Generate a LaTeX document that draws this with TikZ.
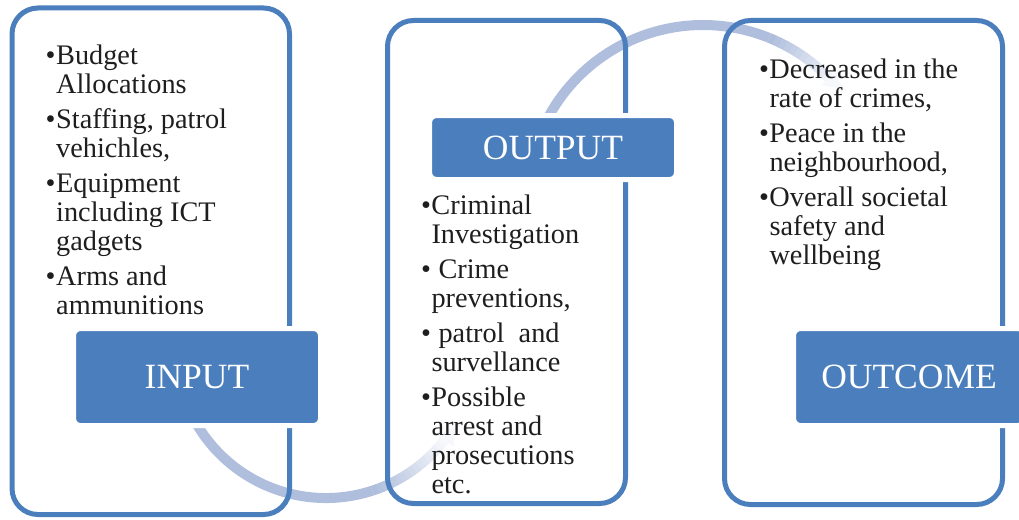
\documentclass[tikz,border=0pt]{standalone}
\usepackage{fontspec}
\setmainfont{Liberation Serif}
\usepackage{tikz}
\usetikzlibrary{arrows.meta}
\definecolor{frameblue}{RGB}{74,126,188}
\definecolor{arcblue}{RGB}{175,190,221}
\definecolor{inktext}{RGB}{30,30,30}
\newcommand{\bitem}{\par\hangindent=10.5pt\hangafter=1\noindent\makebox[10.5pt][l]{\textbullet}}
\newcommand{\itemsbox}[1]{\parbox[t]{230pt}{\fontsize{28.3}{29}\selectfont\setlength{\parskip}{6.3pt}#1}}

\begin{document}
\begin{tikzpicture}[x=1pt, y=-1pt,
    frame/.style={draw=frameblue, line width=5pt, rounded corners=26pt, inner sep=0pt},
    tag/.style={fill=frameblue, draw=white, line width=5pt, rounded corners=7pt, text=white,
        font=\fontsize{35.5}{40}\selectfont, minimum width=247pt, inner sep=0pt},
    bullets/.style={anchor=base west, inner sep=0pt, text=inktext},
    arcline/.style={draw=arcblue, line width=10pt}]
    \useasboundingbox (0,0) rectangle (1019,519);

    % bending arrows behind the boxes
    \coordinate (c1) at (326,348);
    \coordinate (c2) at (703,201);
    \draw[arcline] ([shift={(160:150)}]c1) arc[start angle=160, end angle=72, radius=150];
    \foreach \k in {0,...,16} {
        \pgfmathsetmacro{\ang}{72-2*\k}
        \pgfmathsetmacro{\pc}{100-5.5*\k}
        \draw[arcline, draw=arcblue!\pc!white] ([shift={(\ang:150)}]c1)
            arc[start angle=\ang, end angle=\ang-2.3, radius=150];
    }
    \draw[arcline, draw=arcblue!10!white, -{Triangle[length=13pt,width=22pt]}]
        ([shift={(39:150)}]c1) arc[start angle=39, end angle=33, radius=150];
    \draw[arcline] ([shift={(200:176)}]c2) arc[start angle=200, end angle=292, radius=176];
    \foreach \k in {0,...,12} {
        \pgfmathsetmacro{\ang}{292+2*\k}
        \pgfmathsetmacro{\pc}{100-7*\k}
        \draw[arcline, draw=arcblue!\pc!white] ([shift={(\ang:176)}]c2)
            arc[start angle=\ang, end angle=\ang+2.3, radius=176];
    }
    \draw[arcline, draw=arcblue!10!white, -{Triangle[length=13pt,width=22pt]}]
        ([shift={(315:176)}]c2) arc[start angle=315, end angle=320, radius=176];

    % frames
    \node[frame, minimum width=277.5pt, minimum height=506.5pt] (inbox) at (150.75,261.25) {};
    \node[frame, minimum width=238pt, minimum height=483pt] (outbox) at (506.5,262) {};
    \node[frame, minimum width=278pt, minimum height=484pt] (ocbox) at (863.5,262.5) {};

    % headings
    \node[tag, minimum height=97pt] (in) at (197,377) {INPUT};
    \node[tag, minimum height=64pt] (out) at (553,147.5) {OUTPUT};
    \node[tag, minimum height=97pt, minimum width=231pt] (oc) at (909,377) {OUTCOME};

    % bullet lists
    \node[bullets] (inlist) at (45.5,64) {\itemsbox{%
        \bitem Budget\\Allocations
        \bitem Staffing, patrol\\vehichles,
        \bitem Equipment\\including ICT\\gadgets
        \bitem Arms and\\ammunitions}};
    \node[bullets] (outlist) at (420.8,214) {\itemsbox{%
        \bitem Criminal\\Investigation
        \bitem \ Crime\\preventions,
        \bitem \ patrol\ \ and\\survellance
        \bitem Possible\\arrest and\\prosecutions\\etc.}};
    \node[bullets] (oclist) at (758.8,78) {\itemsbox{%
        \bitem Decreased in the\\rate of crimes,
        \bitem Peace in the\\neighbourhood,
        \bitem Overall societal\\safety and\\wellbeing}};
\end{tikzpicture}
\end{document}
